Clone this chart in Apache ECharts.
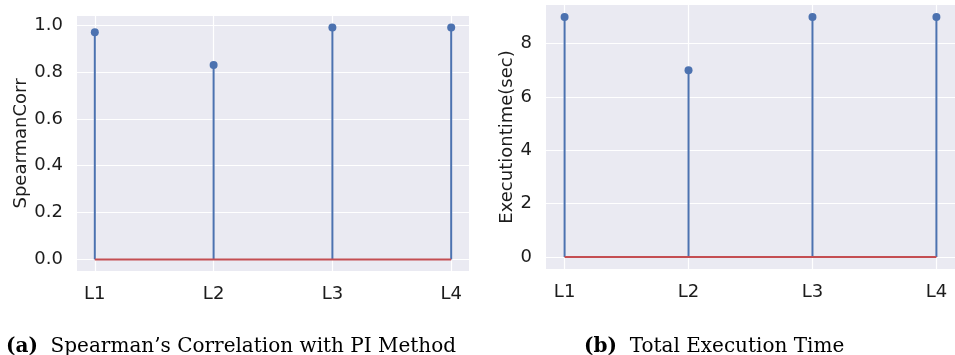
<!DOCTYPE html>
<html>
<head>
<meta charset="utf-8">
<script src="https://cdn.jsdelivr.net/npm/echarts@6/dist/echarts.min.js"></script>
<style>
  html, body { margin: 0; padding: 0; background: #ffffff; }
  #chart { width: 955px; height: 355px; }
</style>
</head>
<body>
<div id="chart"></div>
<script>
// Layer labels shared by both panels
const layers = ['L1', 'L2', 'L3', 'L4'];
// (a) Spearman correlation per layer
const spearmanCorr = [0.97, 0.83, 0.99, 0.99];
const corrTicks = [0, 0.2, 0.4, 0.6, 0.8, 1.0];
// (b) Execution time per layer, seconds
const execTime = [9, 7, 9, 9];
const timeTicks = [0, 2, 4, 6, 8];

const BLUE = '#4C72B0';
const RED = '#C44E52';
const BG = '#EAEAF2';
const TEXT = '#1c1c1c';
const FONT = 'DejaVu Sans';
const SERIF = 'DejaVu Serif';

const idx = layers.map((_, i) => i);

// pad an extent by 5% on each side
function padded(lo, hi) {
  const m = (hi - lo) * 0.05;
  return [lo - m, hi + m];
}

function xAxisFor(gridIndex) {
  const [lo, hi] = padded(0, layers.length - 1);
  return {
    type: 'value', gridIndex, min: lo, max: hi,
    axisLine: { show: false },
    axisTick: { show: false, customValues: idx },
    axisLabel: {
      customValues: idx, margin: 14, color: TEXT, fontFamily: FONT, fontSize: 18,
      formatter: v => layers[Math.round(v)]
    },
    splitLine: { show: true, lineStyle: { color: '#ffffff', width: 1.2 } }
  };
}

function yAxisFor(gridIndex, vals, ticks, name, gap, fmt) {
  const [lo, hi] = padded(0, Math.max(...vals));
  return {
    type: 'value', gridIndex, min: lo, max: hi,
    name, nameLocation: 'middle', nameGap: gap, nameRotate: 90,
    nameTextStyle: { color: TEXT, fontFamily: FONT, fontSize: 18 },
    axisLine: { show: false },
    axisTick: { show: false, customValues: ticks },
    axisLabel: { customValues: ticks, margin: 14, color: TEXT, fontFamily: FONT, fontSize: 18, formatter: fmt },
    splitLine: { show: true, lineStyle: { color: '#ffffff', width: 1.2 } }
  };
}

function stemSeries(axisIndex, vals) {
  const pts = vals.map((v, i) => [i, v]);
  return [
    {
      type: 'custom', xAxisIndex: axisIndex, yAxisIndex: axisIndex,
      data: pts, z: 2,
      renderItem: (params, api) => {
        const top = api.coord([api.value(0), api.value(1)]);
        const base = api.coord([api.value(0), 0]);
        return {
          type: 'line',
          shape: { x1: top[0], y1: top[1], x2: base[0], y2: base[1] },
          style: { stroke: BLUE, lineWidth: 2 }
        };
      }
    },
    {
      type: 'line', xAxisIndex: axisIndex, yAxisIndex: axisIndex,
      data: [[0, 0], [layers.length - 1, 0]], symbol: 'none', z: 3,
      lineStyle: { color: RED, width: 2 }
    },
    {
      type: 'scatter', xAxisIndex: axisIndex, yAxisIndex: axisIndex,
      data: pts, symbol: 'circle', symbolSize: 8, z: 4,
      itemStyle: { color: BLUE, opacity: 1 }
    }
  ];
}

function caption(left, tag, text) {
  return {
    left, top: 332,
    text: '{b|(' + tag + ')}  ' + text,
    textStyle: {
      fontFamily: SERIF, fontSize: 20, fontWeight: 'normal', color: '#000',
      rich: { b: { fontFamily: SERIF, fontSize: 20, fontWeight: 'bold', color: '#000' } }
    }
  };
}

const chart = echarts.init(document.getElementById('chart'), null, { renderer: 'canvas' });
chart.setOption({
  animation: false,
  backgroundColor: '#ffffff',
  grid: [
    { left: 77, top: 16, width: 392, height: 255, show: true, backgroundColor: BG, borderWidth: 0 },
    { left: 546, top: 5, width: 409, height: 264, show: true, backgroundColor: BG, borderWidth: 0 }
  ],
  xAxis: [xAxisFor(0), xAxisFor(1)],
  yAxis: [
    yAxisFor(0, spearmanCorr, corrTicks, 'SpearmanCorr', 47, v => v.toFixed(1)),
    yAxisFor(1, execTime, timeTicks, 'Executiontime(sec)', 28, v => String(v))
  ],
  title: [
    caption(1, 'a', 'Spearman\u2019s Correlation with PI Method'),
    caption(579, 'b', 'Total Execution Time')
  ],
  series: [...stemSeries(0, spearmanCorr), ...stemSeries(1, execTime)]
});
</script>
</body>
</html>
